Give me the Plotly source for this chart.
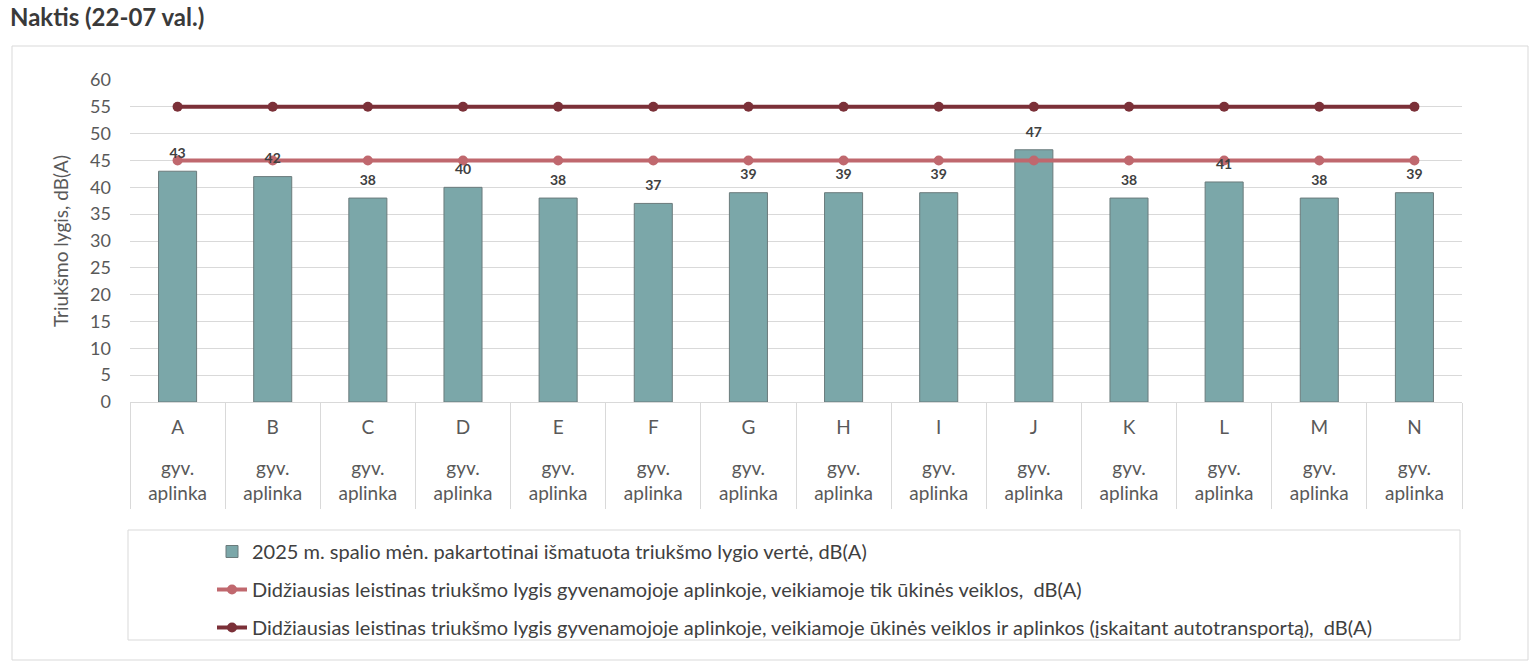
import plotly.graph_objects as go

categories = ["A", "B", "C", "D", "E", "F", "G", "H", "I", "J", "K", "L", "M", "N"]
zone = "gyv.<br>aplinka"
measured = [43, 42, 38, 40, 38, 37, 39, 39, 39, 47, 38, 41, 38, 39]
limit_economic = [45] * 14
limit_total = [55] * 14
y_ticks = list(range(0, 61, 5))

name_bar = "2025 m. spalio mėn. pakartotinai išmatuota triukšmo lygio vertė, dB(A)"
name_l1 = "Didžiausias leistinas triukšmo lygis gyvenamojoje aplinkoje, veikiamoje tik ūkinės veiklos,  dB(A)"
name_l2 = "Didžiausias leistinas triukšmo lygis gyvenamojoje aplinkoje, veikiamoje ūkinės veiklos ir aplinkos (įskaitant autotransportą),  dB(A)"

font_family = "Lato, 'Open Sans', sans-serif"

fig = go.Figure()
fig.add_trace(go.Bar(
    x=categories, y=measured, name=name_bar, width=0.4,
    marker=dict(color="#7BA7A9", line=dict(color="#6B7B7C", width=1)),
    legendgroup="g1",
))
fig.add_trace(go.Scatter(
    x=categories, y=limit_economic, name=name_l1, mode="lines+markers",
    line=dict(color="#C0686E", width=4), marker=dict(size=10, color="#C0686E"),
    legendgroup="g2",
))
fig.add_trace(go.Scatter(
    x=categories, y=limit_total, name=name_l2, mode="lines+markers",
    line=dict(color="#7B3038", width=4), marker=dict(size=10, color="#7B3038"),
    legendgroup="g3",
))
# data labels drawn on top of the lines (invisible marker sets the gap above the bar)
fig.add_trace(go.Scatter(
    x=categories, y=measured, mode="markers+text", text=[str(v) for v in measured],
    textposition="top center", showlegend=False, hoverinfo="skip",
    marker=dict(size=14, opacity=0),
    textfont=dict(size=14, color="#404040", family=font_family, weight="bold"),
    cliponaxis=False,
))
# helper (invisible) trace for the secondary label axis
fig.add_trace(go.Scatter(
    x=list(range(len(categories))), y=measured, xaxis="x2", mode="markers",
    marker=dict(opacity=0), showlegend=False, hoverinfo="skip",
))

L, T, PW, PH = 130, 80, 1332, 322
W, H = 1540, 667

def px(x):
    return (x - L) / PW

def py(y):
    return (T + PH - y) / PH

fig.update_layout(
    width=W, height=H,
    margin=dict(l=L, r=W - L - PW, t=T, b=H - T - PH),
    paper_bgcolor="white", plot_bgcolor="white",
    font=dict(family=font_family, color="#595959"),
    showlegend=True,
    legend=dict(
        orientation="v", x=px(212), y=py(532), xanchor="left", yanchor="top",
        font=dict(size=20, color="#404040"), tracegroupgap=9,
        bgcolor="rgba(0,0,0,0)",
    ),
    xaxis=dict(
        type="category", tickmode="array", tickvals=categories, ticktext=categories,
        tickson="boundaries", ticks="outside", ticklen=106, tickcolor="#D9D9D9",
        showline=True, linecolor="#D9D9D9", linewidth=1,
        tickfont=dict(size=19, color="#595959"), showgrid=False,
        range=[-0.5, 13.5], ticklabelstandoff=8,
    ),
    xaxis2=dict(
        overlaying="x", anchor="y", side="bottom", range=[-0.5, 13.5],
        tickmode="array", tickvals=list(range(len(categories))),
        ticktext=[zone] * len(categories), ticks="", showgrid=False, showline=False,
        zeroline=False, tickfont=dict(size=19, color="#595959"), ticklabelstandoff=53,
    ),
    yaxis=dict(
        range=[0, 60], tickvals=y_ticks, showgrid=True, gridcolor="#D9D9D9",
        zeroline=False, ticks="", tickfont=dict(size=18, color="#595959"),
        ticklabelstandoff=18,
        title=dict(text="Triukšmo lygis, dB(A)", font=dict(size=19, color="#595959"), standoff=16),
    ),
    shapes=[
        dict(type="rect", xref="paper", yref="paper", x0=px(12), x1=px(1528), y0=py(46), y1=py(660),
             line=dict(color="#D9D9D9", width=1), layer="below"),
        dict(type="rect", xref="paper", yref="paper", x0=px(128), x1=px(1460), y0=py(530), y1=py(640),
             line=dict(color="#D9D9D9", width=1), layer="below"),
    ],
    annotations=[
        dict(text="<b>Naktis (22-07 val.)</b>", xref="paper", yref="paper", x=px(8), y=py(16),
             xanchor="left", yanchor="middle", showarrow=False,
             font=dict(size=24, color="#3A3A3A", family=font_family)),
    ],
)

fig.write_html("out.html", config={"displayModeBar": False},
               post_script="document.body.style.margin='0';")
